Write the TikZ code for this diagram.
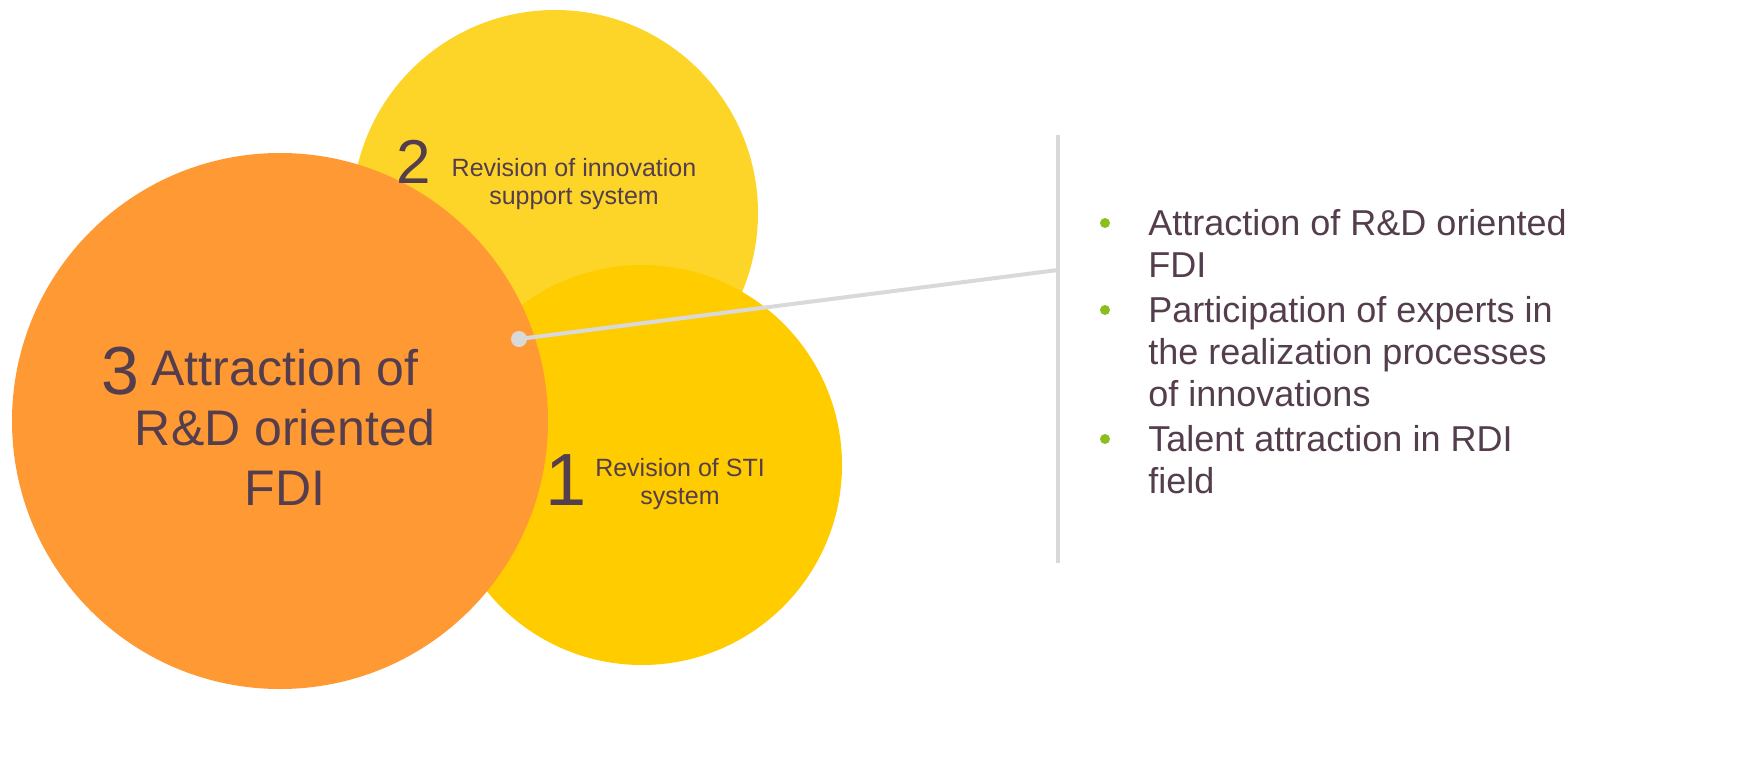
\documentclass[tikz,border=0pt]{standalone}
\usepackage{fontspec}
\setmainfont{Liberation Sans}
\definecolor{txt}{RGB}{84,62,77}
\definecolor{cyel}{RGB}{253,213,41}
\definecolor{cgold}{RGB}{255,204,0}
\definecolor{corange}{RGB}{255,153,51}
\definecolor{lgray}{RGB}{217,217,217}
\definecolor{bgreen}{RGB}{140,190,30}
\tikzset{
  disc/.style={circle, inner sep=0pt, draw=none},
  digit/.style={anchor=base west, inner sep=0pt, text=txt},
  ctext/.style={anchor=center, inner sep=0pt, align=center, text=txt},
  item/.style={anchor=north west, inner sep=0pt, align=left, text=txt, font=\fontsize{18}{21.2}\selectfont},
  bullet/.style={circle, fill=bgreen, inner sep=0pt, minimum size=5pt},
  rule/.style={lgray, line width=2pt}
}
\begin{document}
\begin{tikzpicture}[x=0.5pt,y=-0.5pt]
\useasboundingbox (0,0) rectangle (1744,771);
% circles
\node[disc, fill=cyel, minimum size=203pt] (c2) at (555,213) {};
\node[disc, fill=cgold, minimum size=200pt] (c1) at (642,465) {};
\node[disc, fill=corange, minimum size=268pt] (c3) at (280,421) {};
% circle texts
\node[digit, font=\fontsize{34}{40}\selectfont] (n3) at (101,394) {3};
\node[ctext, font=\fontsize{25}{30}\selectfont] (t3) at (285,427) {Attraction of\\R\&D oriented\\FDI};
\node[digit, font=\fontsize{31}{36}\selectfont] (n2) at (396,183) {2};
\node[ctext, font=\fontsize{12.5}{14}\selectfont] (t2) at (574,184) {Revision of innovation\\support system};
\node[digit, font=\fontsize{37}{42}\selectfont] (n1) at (545,505) {1};
\node[ctext, font=\fontsize{12.5}{14}\selectfont] (t1) at (680,484) {Revision of STI\\system};
% connector
\coordinate (vtop) at (1058,135);
\coordinate (vbot) at (1058,563);
\coordinate (join) at (1058,270);
\node[disc, fill=lgray, minimum size=8pt] (dot) at (519,339) {};
\draw[rule] (vtop) -- (vbot);
\draw[rule] (dot.center) -- (join);
% list
\node[bullet] (b1) at (1105,223) {};
\node[bullet] (b2) at (1105,310) {};
\node[bullet] (b3) at (1105,439) {};
\node[item] (i1) at (1148,205) {\strut Attraction of R\&D oriented\\FDI};
\node[item] (i2) at (1148,292) {\strut Participation of experts in\\the realization processes\\of innovations};
\node[item] (i3) at (1148,421) {\strut Talent attraction in RDI\\field};
\end{tikzpicture}
\end{document}
